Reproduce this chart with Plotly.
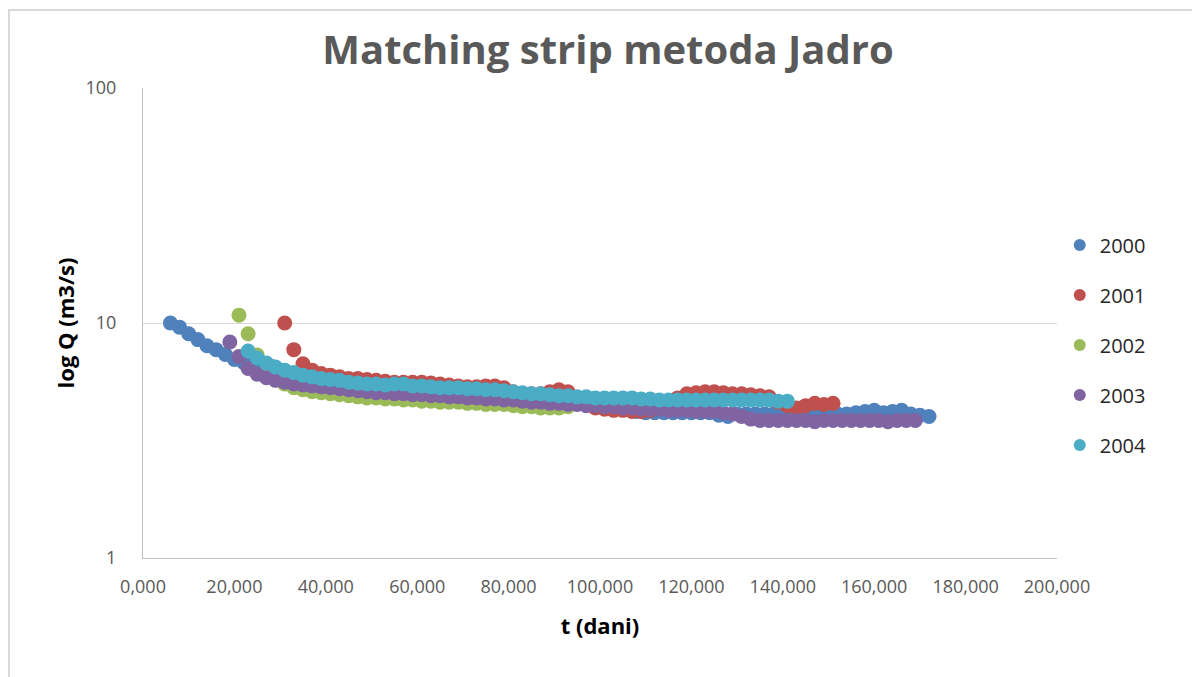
import plotly.graph_objects as go

# t (dani) and Q (m3/s) per year
days_2000 = [6, 8, 10, 12, 14, 16, 18, 20, 22, 24, 26, 28, 30, 32, 34, 36, 38, 40, 42, 44, 46,
             48, 50, 52, 54, 56, 58, 60, 62, 64, 66, 68, 70, 72, 74, 76, 78, 80, 82, 84, 86, 88,
             90, 92, 94, 96, 98, 100, 102, 104, 106, 108, 110, 112, 114, 116, 118, 120, 122, 124,
             126, 128, 130, 132, 134, 136, 138, 140, 142, 144, 146, 148, 150, 152, 154, 156, 158,
             160, 162, 164, 166, 168, 170, 172]
q_2000 = [10.0, 9.6, 9.0, 8.5, 8.0, 7.7, 7.35, 7.0, 6.8, 6.6, 6.5, 6.55, 6.3, 6.1, 5.95, 5.85,
          5.75, 5.65, 5.55, 5.5, 5.45, 5.4, 5.35, 5.3, 5.3, 5.25, 5.2, 5.2, 5.15, 5.1, 5.1, 5.05,
          5.0, 5.0, 4.95, 4.95, 4.9, 4.9, 4.85, 4.8, 4.8, 4.75, 4.7, 4.7, 4.65, 4.6, 4.55, 4.5,
          4.45, 4.4, 4.3, 4.2, 4.15, 4.15, 4.15, 4.15, 4.15, 4.15, 4.15, 4.15, 4.05, 4.0, 4.1,
          4.1, 4.1, 4.1, 4.1, 4.1, 4.1, 4.1, 4.1, 4.1, 4.1, 4.1, 4.1, 4.15, 4.2, 4.25, 4.15,
          4.2, 4.25, 4.1, 4.05, 4.0]

days_2001 = [31, 33, 35, 37, 39, 41, 43, 45, 47, 49, 51, 53, 55, 57, 59, 61, 63, 65, 67, 69, 71,
             73, 75, 77, 79, 81, 83, 85, 87, 89, 91, 93, 95, 97, 99, 101, 103, 105, 107, 109, 111,
             113, 115, 117, 119, 121, 123, 125, 127, 129, 131, 133, 135, 137, 139, 141, 143, 145,
             147, 149, 151]
q_2001 = [10.0, 7.7, 6.7, 6.3, 6.1, 6.0, 5.9, 5.8, 5.8, 5.75, 5.7, 5.65, 5.6, 5.6, 5.6, 5.6,
          5.55, 5.5, 5.45, 5.4, 5.35, 5.35, 5.4, 5.4, 5.3, 5.1, 5.0, 5.0, 5.0, 5.1, 5.2, 5.1, 4.8,
          4.5, 4.35, 4.3, 4.25, 4.25, 4.2, 4.2, 4.25, 4.4, 4.6, 4.8, 5.0, 5.05, 5.1, 5.1, 5.05,
          5.0, 5.0, 4.95, 4.9, 4.85, 4.6, 4.45, 4.35, 4.45, 4.55, 4.5, 4.55]

days_2002 = [21, 23, 25, 27, 29, 31, 33, 35, 37, 39, 41, 43, 45, 47, 49, 51, 53, 55, 57, 59, 61,
             63, 65, 67, 69, 71, 73, 75, 77, 79, 81, 83, 85, 87, 89, 91, 93]
q_2002 = [10.8, 9.0, 7.3, 6.3, 5.8, 5.5, 5.3, 5.2, 5.1, 5.05, 5.0, 4.95, 4.9, 4.85, 4.8, 4.8,
          4.75, 4.75, 4.7, 4.7, 4.65, 4.65, 4.6, 4.6, 4.6, 4.55, 4.55, 4.5, 4.5, 4.5, 4.45, 4.4,
          4.4, 4.35, 4.35, 4.35, 4.4]

days_2003 = [19, 21, 23, 25, 27, 29, 31, 33, 35, 37, 39, 41, 43, 45, 47, 49, 51, 53, 55, 57, 59,
             61, 63, 65, 67, 69, 71, 73, 75, 77, 79, 81, 83, 85, 87, 89, 91, 93, 95, 97, 99, 101,
             103, 105, 107, 109, 111, 113, 115, 117, 119, 121, 123, 125, 127, 129, 131, 133, 135,
             137, 139, 141, 143, 145, 147, 149, 151, 153, 155, 157, 159, 161, 163, 165, 167, 169]
q_2003 = [8.3, 7.2, 6.4, 6.05, 5.85, 5.7, 5.6, 5.5, 5.45, 5.4, 5.35, 5.3, 5.25, 5.2, 5.15, 5.1,
          5.05, 5.05, 5.0, 5.0, 4.95, 4.95, 4.9, 4.9, 4.85, 4.85, 4.8, 4.8, 4.75, 4.75, 4.7, 4.7,
          4.65, 4.6, 4.6, 4.55, 4.55, 4.5, 4.5, 4.45, 4.45, 4.4, 4.4, 4.35, 4.35, 4.3, 4.3, 4.3,
          4.25, 4.25, 4.25, 4.2, 4.2, 4.2, 4.15, 4.1, 4.0, 3.9, 3.85, 3.85, 3.85, 3.85, 3.85,
          3.85, 3.8, 3.85, 3.85, 3.85, 3.85, 3.85, 3.85, 3.85, 3.8, 3.85, 3.85, 3.85]

days_2004 = [23, 25, 27, 29, 31, 33, 35, 37, 39, 41, 43, 45, 47, 49, 51, 53, 55, 57, 59, 61, 63,
             65, 67, 69, 71, 73, 75, 77, 79, 81, 83, 85, 87, 89, 91, 93, 95, 97, 99, 101, 103,
             105, 107, 109, 111, 113, 115, 117, 119, 121, 123, 125, 127, 129, 131, 133, 135, 137,
             139, 141]
q_2004 = [7.6, 7.1, 6.75, 6.5, 6.3, 6.15, 6.0, 5.9, 5.8, 5.75, 5.7, 5.6, 5.55, 5.5, 5.5, 5.45,
          5.5, 5.5, 5.4, 5.4, 5.35, 5.3, 5.3, 5.3, 5.25, 5.25, 5.2, 5.2, 5.15, 5.1, 5.05, 5.0, 5.0,
          4.95, 4.9, 4.9, 4.85, 4.85, 4.8, 4.8, 4.8, 4.8, 4.8, 4.75, 4.75, 4.7, 4.7, 4.7, 4.7,
          4.7, 4.7, 4.7, 4.7, 4.7, 4.7, 4.7, 4.7, 4.7, 4.65, 4.65]

years = ["2000", "2001", "2002", "2003", "2004"]
colors = ["#4F81BD", "#C0504D", "#9BBB59", "#8064A2", "#4BACC6"]
series = [(days_2000, q_2000), (days_2001, q_2001), (days_2002, q_2002),
          (days_2003, q_2003), (days_2004, q_2004)]

FONT = "Open Sans"

fig = go.Figure()
for name, color, (xs, ys) in zip(years, colors, series):
    fig.add_trace(go.Scatter(
        x=xs, y=ys, mode="markers", name=name, legendgroup=name,
        marker=dict(size=15, color=color, line=dict(width=0)),
    ))

# page body has an 8px offset, margins are set so the plot lands at 143..1057 / 88..558
fig.update_layout(
    width=1200, height=677,
    paper_bgcolor="white", plot_bgcolor="white",
    margin=dict(l=135, r=151, t=80, b=127),
    separators=",.",
    font=dict(family=FONT, color="#595959"),
    title=dict(text="<b>Matching strip metoda Jadro</b>", x=0.5, xanchor="center",
               y=0.938, yanchor="middle", font=dict(size=40, color="#595959", family=FONT)),
    legend=dict(x=1.003, y=0.453, xanchor="left", yanchor="middle",
                font=dict(size=20, color="#262626", family=FONT),
                tracegroupgap=21, itemsizing="constant", bgcolor="rgba(0,0,0,0)"),
    shapes=[dict(type="rect", xref="paper", yref="paper", x0=-0.1466, x1=1.3, y0=-0.4, y1=1.166,
                 line=dict(color="#D9D9D9", width=2), layer="below")],
)

fig.update_xaxes(
    range=[0, 200], tickvals=[0, 20, 40, 60, 80, 100, 120, 140, 160, 180, 200],
    tickformat=".3f", showgrid=False, zeroline=False,
    showline=True, linecolor="#BFBFBF", linewidth=1,
    ticks="", ticklabelstandoff=12,
    tickfont=dict(size=18, color="#595959", family=FONT),
    title=dict(text="<b>t (dani)</b>", font=dict(size=22, color="#000000", family=FONT), standoff=22),
)
fig.update_yaxes(
    type="log", range=[0, 2], tickvals=[1, 10, 100], ticktext=["1", "10", "100"],
    showgrid=True, gridcolor="#D9D9D9", gridwidth=1, zeroline=False,
    showline=True, linecolor="#BFBFBF", linewidth=1,
    ticks="", ticklabelstandoff=22,
    tickfont=dict(size=18, color="#595959", family=FONT),
    title=dict(text="<b>log Q (m3/s)</b>", font=dict(size=22, color="#000000", family=FONT), standoff=4),
)

fig.write_html("out.html")
